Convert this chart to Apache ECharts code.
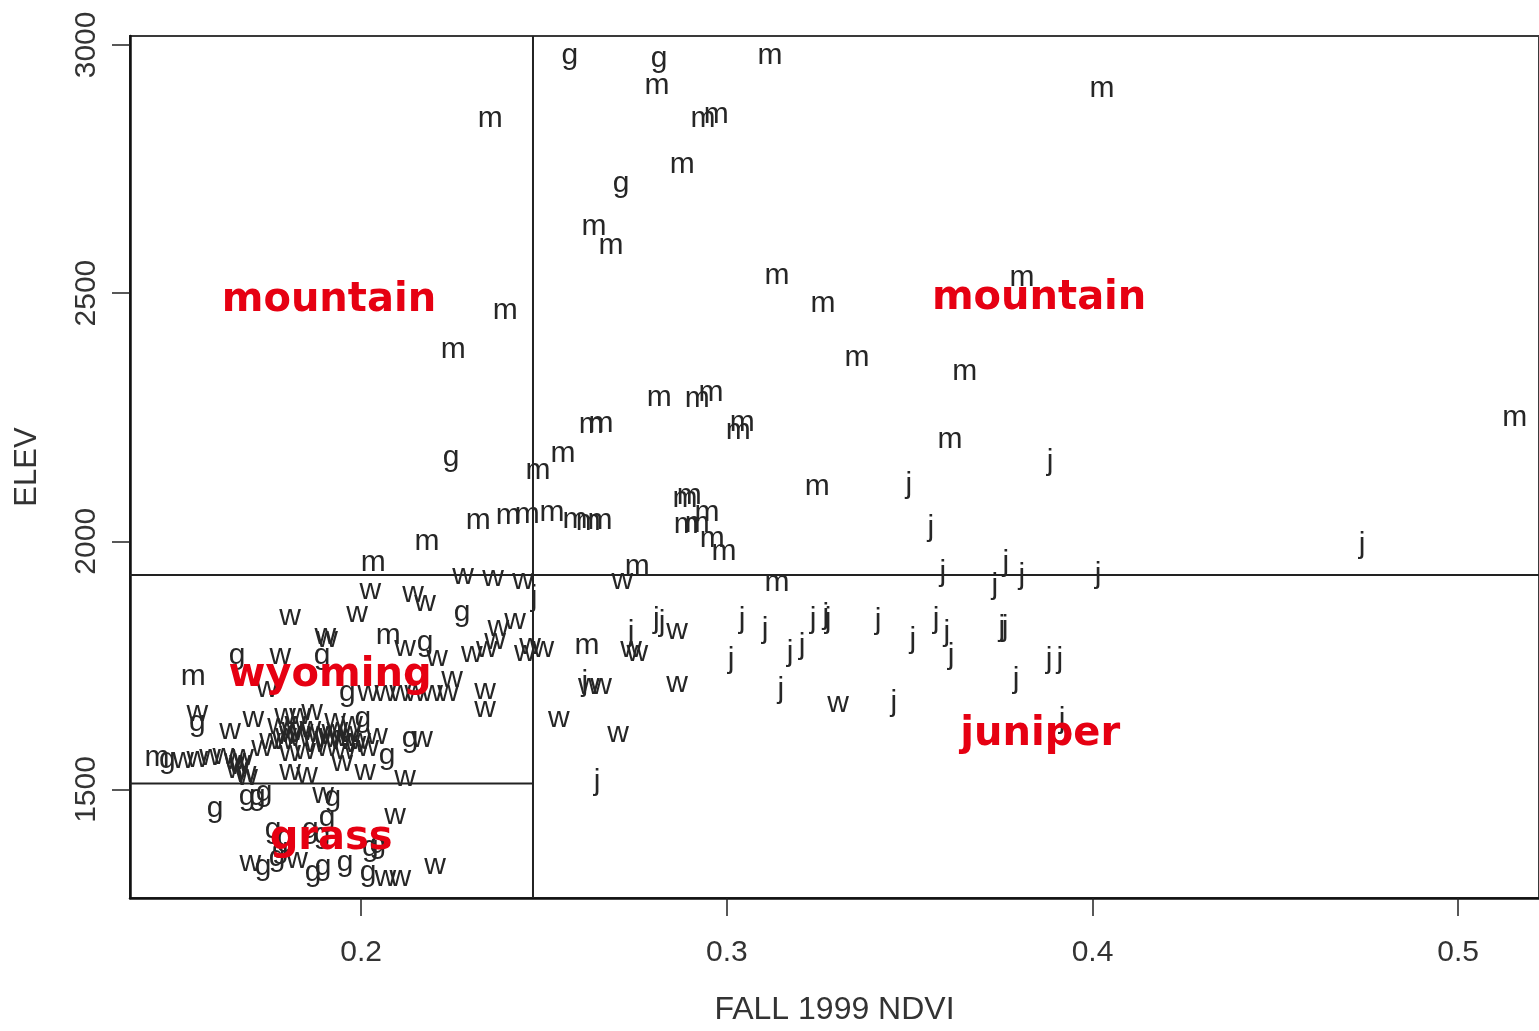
<!DOCTYPE html>
<html><head><meta charset="utf-8">
<script src="https://cdn.jsdelivr.net/npm/echarts@6/dist/echarts.min.js"></script>
<style>html,body{margin:0;padding:0;background:#fff;}#c{width:1539px;height:1031px;}</style>
</head><body><div id="c"></div>
<script>
const xTicks = [0.2, 0.3, 0.4, 0.5];
const yTicks = [1500, 2000, 2500, 3000];
const xRange = [0.1368, 0.5221];
const yRange = [1281.4, 3018];
const splitX = 0.247;
const splitYHigh = 1932;
const splitYLow = 1512;

const mountain = [
  [0.2353,2852],[0.2809,2917],[0.3118,2979],[0.4026,2911],[0.2935,2852],[0.2971,2860],
  [0.2878,2758],[0.2637,2634],[0.2683,2596],[0.3137,2535],[0.3807,2531],[0.3263,2479],
  [0.2394,2465],[0.2252,2385],[0.3356,2369],[0.3651,2341],[0.2815,2289],[0.2919,2287],
  [0.2957,2299],[0.2629,2235],[0.2656,2237],[0.3042,2239],[0.3031,2223],[0.5155,2249],
  [0.3610,2205],[0.2552,2176],[0.2484,2142],[0.3247,2110],[0.2886,2086],[0.2897,2092],
  [0.2946,2058],[0.2889,2034],[0.2919,2036],[0.2960,2006],[0.2992,1980],[0.2320,2042],
  [0.2402,2052],[0.2454,2054],[0.2522,2058],[0.2585,2044],[0.2621,2040],[0.2653,2042],
  [0.2180,2000],[0.2033,1956],[0.2755,1948],[0.3137,1916],[0.2618,1789],[0.1541,1727],
  [0.2074,1809],[0.1442,1563]
];
const grass = [
  [0.2571,2979],[0.2815,2973],[0.2711,2720],[0.2246,2168],[0.2276,1856],[0.2175,1795],
  [0.1661,1769],[0.1893,1769],[0.1962,1695],[0.1552,1635],[0.2005,1643],[0.2134,1603],
  [0.2071,1569],[0.1470,1559],[0.1688,1485],[0.1716,1485],[0.1735,1493],[0.1601,1462],
  [0.1923,1483],[0.1907,1444],[0.1759,1418],[0.1779,1378],[0.1732,1344],[0.1861,1418],
  [0.1893,1408],[0.1869,1332],[0.1896,1344],[0.1956,1352],[0.2019,1332],[0.2025,1382],
  [0.2046,1388],[0.1770,1362],[0.1792,1402]
];
const juniper = [
  [0.3884,2160],[0.3498,2114],[0.3558,2028],[0.4737,1994],[0.3591,1936],[0.3763,1956],
  [0.3733,1910],[0.3807,1930],[0.4015,1932],[0.2473,1886],[0.2807,1842],[0.2823,1836],
  [0.3042,1842],[0.3105,1822],[0.3236,1842],[0.3271,1850],[0.3277,1842],[0.3414,1840],
  [0.3509,1801],[0.3572,1842],[0.3602,1815],[0.3613,1769],[0.3752,1826],[0.3761,1826],
  [0.3881,1761],[0.3911,1761],[0.3791,1721],[0.3012,1761],[0.3173,1775],[0.3206,1789],
  [0.2738,1815],[0.2612,1715],[0.3148,1701],[0.3457,1675],[0.3917,1641],[0.2645,1515]
];
const wyoming = [
  [0.2714,1920],[0.2864,1819],[0.2755,1775],[0.2738,1783],[0.2498,1783],[0.2462,1789],
  [0.2623,1709],[0.2656,1709],[0.2864,1713],[0.3304,1673],[0.2541,1643],[0.2703,1613],
  [0.2279,1930],[0.2361,1926],[0.2443,1920],[0.2025,1900],[0.2142,1894],[0.2175,1876],
  [0.1806,1848],[0.1989,1854],[0.1907,1803],[0.1902,1809],[0.2120,1785],[0.2208,1765],
  [0.2375,1826],[0.2421,1840],[0.2366,1799],[0.2303,1773],[0.2344,1783],[0.2448,1775],
  [0.2249,1723],[0.2339,1699],[0.2339,1663],[0.2019,1695],[0.2066,1695],[0.2107,1695],
  [0.2148,1695],[0.2194,1695],[0.2238,1695],[0.1779,1769],[0.1743,1703],[0.1552,1655],
  [0.1705,1643],[0.1642,1619],[0.1513,1559],[0.1552,1561],[0.1587,1565],[0.1623,1569],
  [0.1669,1553],[0.1661,1539],[0.1688,1525],[0.1677,1565],[0.1948,1553],[0.2011,1535],
  [0.2120,1523],[0.1806,1535],[0.1852,1529],[0.2167,1603],[0.2044,1609],[0.2093,1448],
  [0.1697,1352],[0.1825,1358],[0.2066,1322],[0.2107,1322],[0.2202,1346],[0.1896,1489],
  [0.1792,1649],[0.1820,1633],[0.1806,1613],[0.1833,1605],[0.1787,1599],[0.1861,1623],
  [0.1882,1613],[0.1902,1603],[0.1921,1617],[0.1874,1593],[0.1907,1585],[0.1943,1599],
  [0.1970,1613],[0.1956,1579],[0.1984,1593],[0.1847,1579],[0.1806,1575],[0.1773,1629],
  [0.1929,1639],[0.1833,1649],[0.1866,1657],[0.1751,1599],[0.1729,1585],[0.1975,1633],
  [0.1997,1599],[0.2019,1585],[0.1812,1621],[0.1840,1617],[0.1795,1609],[0.1915,1609],
  [0.1935,1621],[0.1960,1605],[0.1668,1547],[0.1655,1557],[0.1684,1531]
];
const regionNames = ['mountain', 'mountain', 'wyoming', 'grass', 'juniper'];
const regionPos = [[0.1912,2485],[0.3854,2489],[0.1915,1730],[0.1918,1402],[0.3857,1611]];

const axisFont = "'Liberation Sans','Arial',sans-serif";
const letterFont = "'Liberation Sans','Arial',sans-serif";

function letterSeries(name, data, ch) {
  return {
    type: 'scatter', name: name, data: data, symbol: 'circle', symbolSize: 1,
    itemStyle: { color: 'rgba(0,0,0,0)', opacity: 1 }, silent: true, z: 3,
    label: { show: true, position: 'inside', formatter: ch, color: '#262626', opacity: 1,
      fontSize: 30, fontFamily: letterFont, textBorderWidth: 0, textShadowBlur: 0 }
  };
}
function lineSeries(data) {
  return { type: 'line', data: data, symbol: 'none', silent: true, z: 2,
    lineStyle: { color: '#222', width: 2 } };
}

const chart = echarts.init(document.getElementById('c'), null, { renderer: 'canvas' });
chart.setOption({
  animation: false,
  backgroundColor: '#ffffff',
  grid: { left: 130, top: 36, right: 0, bottom: 129, show: true,
    borderColor: '#3a3a3a', borderWidth: 2, backgroundColor: 'transparent' },
  xAxis: {
    type: 'value', min: xRange[0], max: xRange[1],
    axisLine: { show: true, onZero: false, lineStyle: { color: '#111', width: 2.5 } },
    axisTick: { show: true, length: 18, customValues: xTicks, lineStyle: { color: '#222', width: 1.5 } },
    axisLabel: { customValues: xTicks, margin: 40, color: '#333', fontSize: 30, fontFamily: axisFont,
      formatter: function (v) { return v.toFixed(1); } },
    splitLine: { show: false },
    name: 'FALL 1999 NDVI', nameLocation: 'middle', nameGap: 96,
    nameTextStyle: { color: '#333', fontSize: 32, fontFamily: axisFont }
  },
  yAxis: {
    type: 'value', min: yRange[0], max: yRange[1],
    axisLine: { show: true, onZero: false, lineStyle: { color: '#111', width: 2.5 } },
    axisTick: { show: true, length: 18, customValues: yTicks, lineStyle: { color: '#222', width: 1.5 } },
    axisLabel: { customValues: yTicks, rotate: 90, margin: 28, color: '#333', fontSize: 30, fontFamily: axisFont,
      formatter: function (v) { return String(Math.round(v)); } },
    splitLine: { show: false },
    name: 'ELEV', nameLocation: 'middle', nameGap: 87, nameRotate: 90,
    nameTextStyle: { color: '#333', fontSize: 31, fontFamily: axisFont }
  },
  series: [
    lineSeries([[splitX, yRange[0]], [splitX, yRange[1]]]),
    lineSeries([[xRange[0], splitYHigh], [xRange[1], splitYHigh]]),
    lineSeries([[xRange[0], splitYLow], [splitX, splitYLow]]),
    letterSeries('mountain', mountain, 'm'),
    letterSeries('grass', grass, 'g'),
    letterSeries('juniper', juniper, 'j'),
    letterSeries('wyoming', wyoming, 'w'),
    {
      type: 'scatter', data: regionPos, symbol: 'circle', symbolSize: 1, silent: true, z: 5,
      itemStyle: { color: 'rgba(0,0,0,0)', opacity: 1 },
      label: { show: true, position: 'inside', color: '#e60012', opacity: 1, fontSize: 40, fontWeight: 'bold',
        fontFamily: "'DejaVu Sans',sans-serif", textBorderWidth: 0,
        formatter: function (p) { return regionNames[p.dataIndex]; } }
    }
  ]
});
</script></body></html>
